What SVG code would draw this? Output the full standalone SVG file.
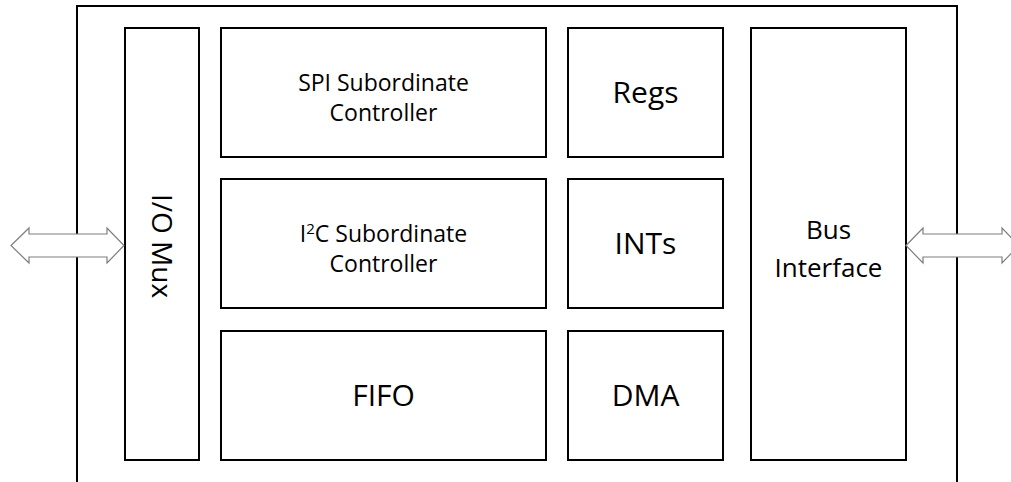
<svg xmlns="http://www.w3.org/2000/svg" width="1011" height="482" viewBox="0 0 1011 482">
<style>
.box{fill:#fff;stroke:#000;stroke-width:2}
.frame{fill:none;stroke:#000;stroke-width:2}
.arr{fill:#fff;stroke:#7f7f7f;stroke-width:1.2}
text{font-family:"Open Sans","Liberation Sans",sans-serif;font-size:23px;fill:#000;text-anchor:middle}
.big{font-size:30px}
.mid{font-size:26px}
.mux{font-size:28px}
.sup{font-size:15px}
</style>
<rect class="frame" x="77" y="6" width="880" height="520"/>
<g id="iomux"><rect class="box" x="125" y="28" width="74" height="432"/><text class="mux" transform="translate(162,246) rotate(90)" y="10">I/O Mux</text></g>
<g id="spi"><rect class="box" x="221" y="28" width="325" height="129"/><text x="383.5" y="91">SPI Subordinate</text><text x="383.5" y="121">Controller</text></g>
<g id="i2c"><rect class="box" x="221" y="179" width="325" height="129"/><text x="383.5" y="242">I<tspan class="sup" dy="-8">2</tspan><tspan dy="8">C Subordinate</tspan></text><text x="383.5" y="272">Controller</text></g>
<g id="fifo"><rect class="box" x="221" y="331" width="325" height="129"/><text class="big" x="383.5" y="406">FIFO</text></g>
<g id="regs"><rect class="box" x="568" y="28" width="155" height="129"/><text class="big" x="645.5" y="103">Regs</text></g>
<g id="ints"><rect class="box" x="568" y="179" width="155" height="129"/><text class="big" x="645.5" y="254">INTs</text></g>
<g id="dma"><rect class="box" x="568" y="331" width="155" height="129"/><text class="big" x="645.5" y="406">DMA</text></g>
<g id="bus"><rect class="box" x="751" y="28" width="155" height="432"/><text class="mid" x="828.5" y="239">Bus</text><text class="mid" x="828.5" y="277">Interface</text></g>
<g id="connectors">
<polygon class="arr" points="11,245.5 29,228 29,234 107,234 107,228 124,245.5 107,263 107,257 29,257 29,263"/>
<polygon class="arr" points="906,245.5 923,228 923,234 1002,234 1002,228 1019,245.5 1002,263 1002,257 923,257 923,263"/>
</g>
</svg>
